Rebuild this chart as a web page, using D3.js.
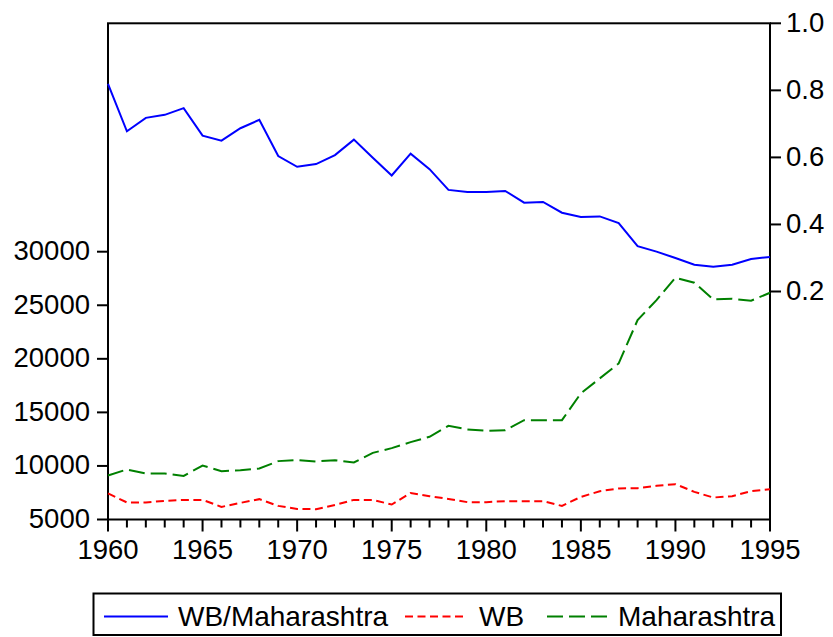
<!DOCTYPE html>
<html>
<head>
<meta charset="utf-8">
<script src="https://cdn.jsdelivr.net/npm/d3@7"></script>
<style>
  html, body { margin: 0; padding: 0; background: #fff; }
  svg { display: block; }
  text { font-family: "Liberation Sans", Arial, sans-serif; fill: #000; }
</style>
</head>
<body>
<svg id="chart" width="833" height="637"></svg>
<script>
const years = d3.range(1960, 1996);
const ratioWBMaharashtra = [0.819,0.678,0.718,0.727,0.747,0.665,0.650,0.687,0.712,0.604,
  0.572,0.580,0.607,0.653,0.599,0.546,0.611,0.565,0.503,0.497,
  0.497,0.500,0.465,0.467,0.435,0.422,0.424,0.404,0.335,0.319,
  0.300,0.280,0.274,0.280,0.297,0.303];
const wb = [7430,6590,6590,6740,6830,6830,6180,6550,6900,6270,
  5990,5960,6360,6830,6830,6400,7480,7180,6920,6620,
  6620,6710,6710,6710,6270,7110,7640,7900,7920,8140,
  8300,7580,7050,7180,7640,7830];
const maharashtra = [9110,9670,9300,9300,9070,10040,9510,9600,9760,10450,
  10540,10420,10540,10320,11220,11660,12220,12720,13740,13410,
  13280,13340,14270,14270,14270,16770,18170,19570,23620,25480,
  27570,27100,25550,25600,25420,26170];
const leftTicks = [5000,10000,15000,20000,25000,30000];
const rightTicks = [0.2,0.4,0.6,0.8,1.0];
const xTicks = [1960,1965,1970,1975,1980,1985,1990,1995];
const seriesNames = ["WB/Maharashtra","WB","Maharashtra"];

const svg = d3.select("#chart");
const L = 108, R = 770, T = 23.3, B = 519.5;

const x = d3.scaleLinear().domain([1960,1995]).range([L,R]);
const yL = d3.scaleLinear().domain([5000,30000]).range([B, 251.7]);
const yR = d3.scaleLinear().domain([0.2,1.0]).range([291.5, T]);

const FS = 27.5;
const FSL = 28;

svg.append("rect").attr("x",L).attr("y",T).attr("width",R-L).attr("height",B-T)
  .attr("fill","none").attr("stroke","#000").attr("stroke-width",2);

const gL = svg.append("g");
leftTicks.forEach(v => {
  gL.append("line").attr("x1",L-11).attr("x2",L).attr("y1",yL(v)).attr("y2",yL(v))
    .attr("stroke","#000").attr("stroke-width",2);
  gL.append("text").attr("x",L-18).attr("y",yL(v)+8.5).attr("text-anchor","end")
    .attr("font-size",FS).text(v);
});

const gR = svg.append("g");
rightTicks.forEach(v => {
  gR.append("line").attr("x1",R).attr("x2",R+11).attr("y1",yR(v)).attr("y2",yR(v))
    .attr("stroke","#000").attr("stroke-width",2);
  gR.append("text").attr("x",R+16).attr("y",yR(v)+8.5).attr("text-anchor","start")
    .attr("font-size",FS).text(d3.format(".1f")(v));
});

const gX = svg.append("g");
years.forEach(yr => {
  const major = xTicks.includes(yr);
  gX.append("line").attr("x1",x(yr)).attr("x2",x(yr)).attr("y1",B).attr("y2",B+(major?12:8))
    .attr("stroke","#000").attr("stroke-width",2);
});
xTicks.forEach(yr => {
  gX.append("text").attr("x",x(yr)).attr("y",B+39).attr("text-anchor","middle")
    .attr("font-size",FS).text(yr);
});

const lineR = d3.line().x((d,i)=>x(years[i])).y(d=>yR(d));
const lineL = d3.line().x((d,i)=>x(years[i])).y(d=>yL(d));

svg.append("path").attr("d",lineL(maharashtra)).attr("fill","none")
  .attr("stroke","#008000").attr("stroke-width",2).attr("stroke-dasharray","16,6");
svg.append("path").attr("d",lineL(wb)).attr("fill","none")
  .attr("stroke","#ff0000").attr("stroke-width",2).attr("stroke-dasharray","8,4.5");
svg.append("path").attr("d",lineR(ratioWBMaharashtra)).attr("fill","none")
  .attr("stroke","#0000ff").attr("stroke-width",2);

const lg = svg.append("g");
lg.append("rect").attr("x",93.5).attr("y",593.5).attr("width",687.5).attr("height",41.5)
  .attr("fill","none").attr("stroke","#000").attr("stroke-width",2);
const ly = 616.5;
const items = [
  {name: seriesNames[0], color:"#0000ff", dash:null, x1:104, x2:168, tx:178},
  {name: seriesNames[1], color:"#ff0000", dash:"8,4.5", x1:405, x2:465, tx:479},
  {name: seriesNames[2], color:"#008000", dash:"16,6", x1:547, x2:608, tx:618}
];
items.forEach(it => {
  const ln = lg.append("line").attr("x1",it.x1).attr("x2",it.x2).attr("y1",ly).attr("y2",ly)
    .attr("stroke",it.color).attr("stroke-width",2);
  if (it.dash) ln.attr("stroke-dasharray",it.dash);
  lg.append("text").attr("x",it.tx).attr("y",626).attr("font-size",FSL).text(it.name);
});
</script>
</body>
</html>
